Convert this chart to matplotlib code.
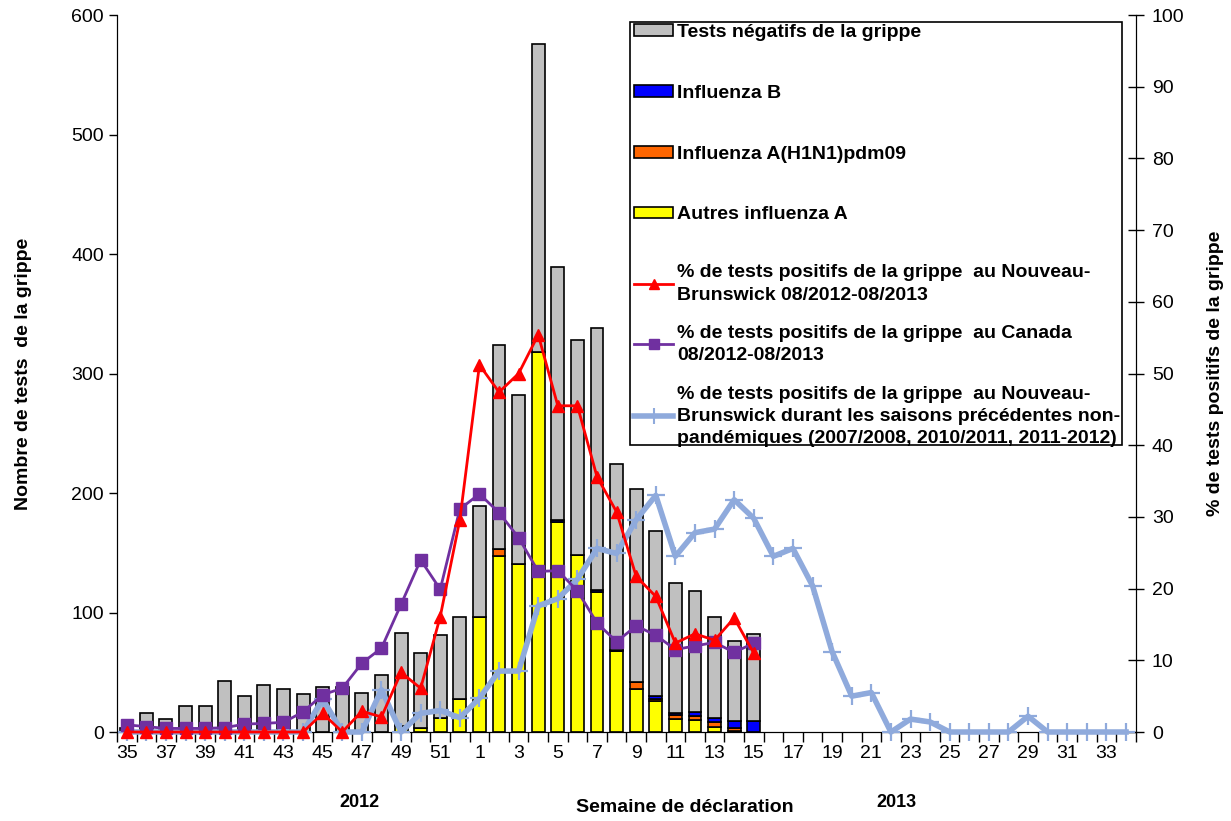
import numpy as np
import matplotlib
matplotlib.use("Agg")
import matplotlib.pyplot as plt
from matplotlib.patches import Patch, Rectangle
from matplotlib.lines import Line2D
import matplotlib.transforms as mtransforms

plt.rcParams['font.family'] = ['Liberation Sans', 'DejaVu Sans']

# weeks 35..52 (2012) then 1..34 (2013)
weeks = list(range(35, 53)) + list(range(1, 35))

# stacked bars, weeks 35 (2012) .. 15 (2013)
autres_a = [0, 0, 0, 0, 0, 0, 0, 0, 0, 0, 0, 0, 0, 0,
            5, 3, 12, 28, 96, 147, 141, 318, 176, 148, 117, 68, 36, 26, 11, 10, 4, 1, 0]
h1n1 = [0, 0, 0, 0, 0, 0, 0, 0, 0, 0, 0, 0, 0, 0,
        0, 0, 0, 0, 0, 6, 0, 0, 0, 0, 0, 0, 6, 2, 3, 3, 4, 2, 0]
flu_b = [0, 0, 0, 0, 0, 0, 0, 0, 0, 0, 0, 0, 0, 0,
         0, 0, 0, 0, 0, 0, 0, 0, 1, 0, 2, 1, 0, 2, 2, 4, 4, 6, 9]
negatifs = [3, 16, 11, 22, 22, 43, 30, 39, 36, 32, 38, 38, 33, 48,
            78, 63, 69, 68, 93, 171, 141, 258, 212, 180, 219, 155, 161, 138, 109, 101, 84, 67, 73]

# % positive lines
pct_nb = [0, 0, 0, 0, 0, 0, 0, 0, 0, 0, 2.6, 0, 2.9, 2.1, 8.3, 6.1, 16.1, 29.6,
          51.2, 47.4, 50.0, 55.4, 45.5, 45.5, 35.6, 30.7, 21.7, 18.9, 12.4, 13.7, 12.8, 15.9, 11.0]
pct_canada = [1.0, 0.75, 0.5, 0.5, 0.5, 0.6, 1.1, 1.2, 1.35, 2.8, 5.2, 6.1, 9.6, 11.7, 17.8, 24.0, 19.9, 31.1,
              33.2, 30.6, 27.1, 22.4, 22.5, 19.7, 15.2, 12.6, 14.8, 13.5, 11.5, 12.0, 12.5, 11.1, 12.4]
pct_prev = [0, 0, 0, 0, 0, 0, 0, 0, 0, 0, 4.6, 0, 0, 5.9, 0, 2.6, 3.0, 2.0,
            4.7, 8.5, 8.5, 17.6, 18.6, 21.3, 25.6, 24.9, 29.6, 33.0, 24.5, 27.8, 28.3, 32.4, 29.8,
            24.5, 25.6, 20.4, 11.2, 5.0, 5.5, 0, 1.8, 1.4, 0, 0, 0, 0, 2.2, 0, 0, 0, 0, 0]

lbl_neg = "Tests négatifs de la grippe"
lbl_b = "Influenza B"
lbl_h1 = "Influenza A(H1N1)pdm09"
lbl_a = "Autres influenza A"
lbl_nb = "% de tests positifs de la grippe  au Nouveau-\nBrunswick 08/2012-08/2013"
lbl_ca = "% de tests positifs de la grippe  au Canada\n08/2012-08/2013"
lbl_prev = ("% de tests positifs de la grippe  au Nouveau-\nBrunswick durant les saisons précédentes non-\n"
            "pandémiques (2007/2008, 2010/2011, 2011-2012)")

c_neg, c_b, c_h1, c_a = "#C0C0C0", "#0000FF", "#FF6600", "#FFFF00"
c_nb, c_ca, c_prev = "#FF0000", "#7030A0", "#8FAADC"

fig = plt.figure(figsize=(12.31, 8.21), dpi=100)
ax = fig.add_axes([0.095, 0.1084, 0.8277, 0.8733])
ax2 = ax.twinx()

xb = np.arange(len(negatifs))
a = np.array(autres_a, float)
h = np.array(h1n1, float)
b = np.array(flu_b, float)
n = np.array(negatifs, float)
w = 0.66
kw = dict(width=w, edgecolor="black", linewidth=1.2)
ax.bar(xb, a, color=c_a, **kw)
ax.bar(xb, h, bottom=a, color=c_h1, **kw)
ax.bar(xb, b, bottom=a + h, color=c_b, **kw)
ax.bar(xb, n, bottom=a + h + b, color=c_neg, **kw)

ax.set_xlim(-0.5, len(weeks) - 0.5)
ax.set_ylim(0, 600)
ax.set_yticks(range(0, 601, 100))
ax.tick_params(axis="y", direction="out", length=6, labelsize=14, width=1)
ax.set_xticks(np.arange(0, len(weeks), 2))
ax.set_xticklabels([str(wk) for wk in weeks[::2]])
ax.set_xticks(np.arange(-0.5, len(weeks), 1), minor=True)
ax.tick_params(axis="x", which="major", length=0, labelsize=14, pad=9)
ax.tick_params(axis="x", which="minor", length=7, width=1, direction="out")
ax.spines["top"].set_visible(False)
ax.set_ylabel("Nombre de tests  de la grippe", fontsize=14, fontweight="bold", labelpad=28)

xl = np.arange(len(pct_prev))
ax2.plot(xl, pct_prev, color=c_prev, lw=4, marker="+", ms=13, mew=1.6, clip_on=False, zorder=3)
ax2.plot(xb, pct_canada, color=c_ca, lw=2, marker="s", ms=8, clip_on=False, zorder=4)
ax2.plot(xb, pct_nb, color=c_nb, lw=2, marker="^", ms=8, clip_on=False, zorder=5)
ax2.set_ylim(0, 100)
ax2.set_yticks(range(0, 101, 10))
ax2.tick_params(axis="y", direction="inout", length=11, labelsize=14, width=1, pad=6)
ax2.spines["top"].set_visible(False)
ax2.set_ylabel("% de tests positifs de la grippe", fontsize=14, fontweight="bold", labelpad=16)

# x-axis texts
trans = mtransforms.blended_transform_factory(ax.transData, ax.transAxes)
ax.text(11.9, -0.098, "2012", transform=trans, ha="center", va="center", fontsize=13, fontweight="bold")
ax.text(39.3, -0.098, "2013", transform=trans, ha="center", va="center", fontsize=13, fontweight="bold")
ax.text(0.557, -0.105, "Semaine de déclaration", transform=ax.transAxes, ha="center", va="center",
        fontsize=14, fontweight="bold")

# legend frame + two legends
frame = Rectangle((0.504, 0.40), 0.482, 0.59, transform=ax2.transAxes, facecolor="white",
                  edgecolor="black", linewidth=1.2, zorder=6)
ax2.add_patch(frame)
bar_handles = [Patch(facecolor=c, edgecolor="black", linewidth=1.2) for c in (c_neg, c_b, c_h1, c_a)]
leg1 = ax2.legend(bar_handles, [lbl_neg, lbl_b, lbl_h1, lbl_a], loc="upper left",
                  bbox_to_anchor=(0.506, 0.99), frameon=False,
                  prop={"weight": "bold", "size": 14}, labelspacing=2.25, handlelength=2.0,
                  handleheight=0.55, handletextpad=0.2, borderpad=0.1, borderaxespad=0)
leg1.set_zorder(7)
ax2.add_artist(leg1)
line_handles = [Line2D([], [], color=c_nb, lw=2, marker="^", ms=7),
                Line2D([], [], color=c_ca, lw=2, marker="s", ms=7),
                Line2D([], [], color=c_prev, lw=4, marker="+", ms=12, mew=1.5)]
leg2 = ax2.legend(line_handles, [lbl_nb, lbl_ca, lbl_prev], loc="upper left",
                  bbox_to_anchor=(0.506, 0.655), frameon=False,
                  prop={"weight": "bold", "size": 14}, labelspacing=1.1, handlelength=2.0,
                  handletextpad=0.2, borderpad=0.1, borderaxespad=0)
for t in leg2.get_texts():
    t.set_linespacing(1.4)
leg2.set_zorder(7)

fig.savefig("out.png", dpi=100)
